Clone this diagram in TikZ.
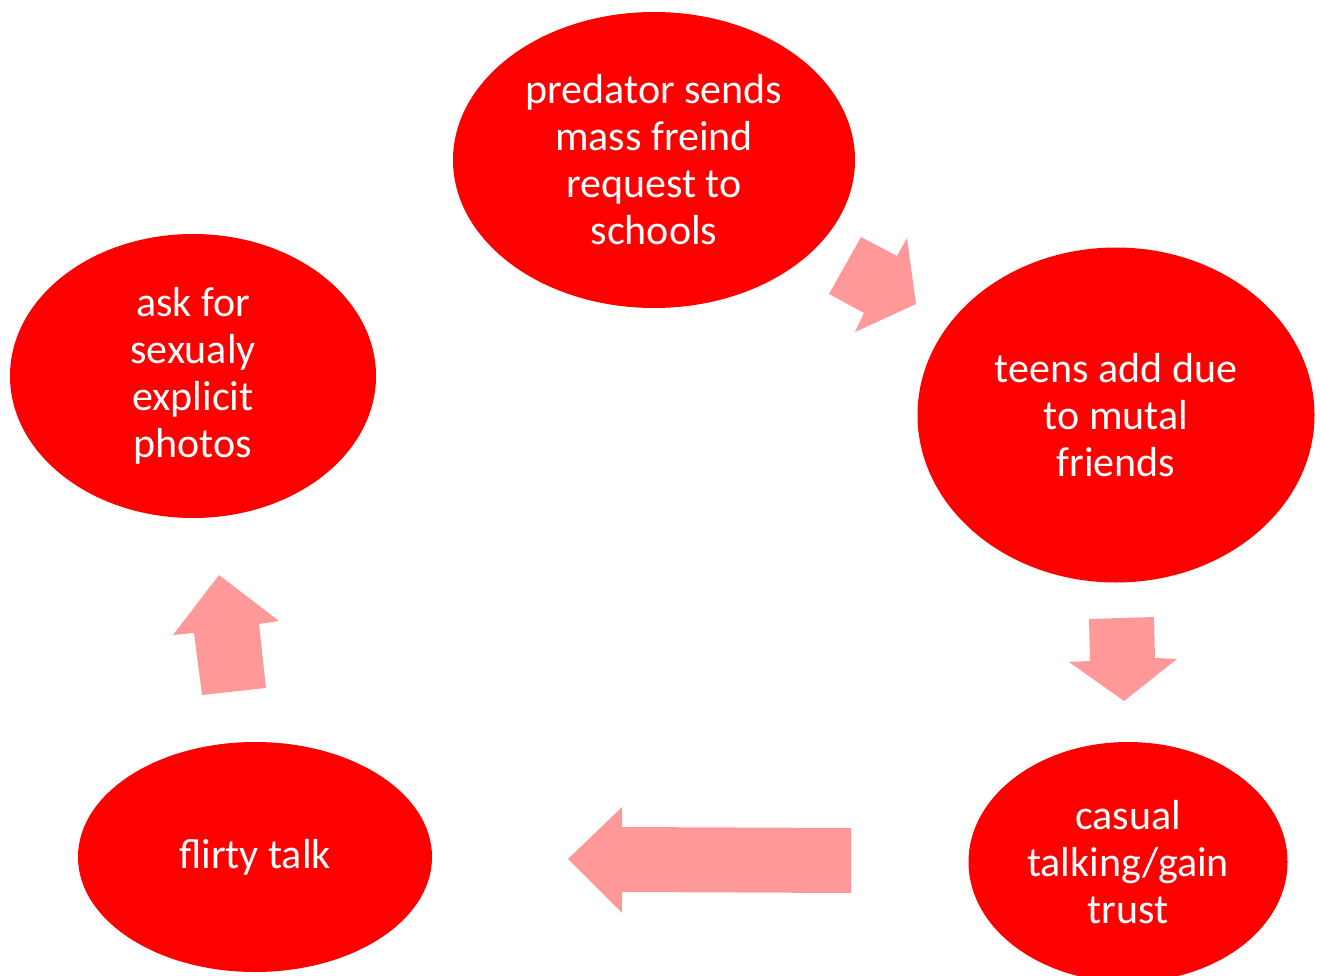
\documentclass[tikz,border=0pt]{standalone}
\usepackage{fontspec}
\setmainfont{Carlito}
\usetikzlibrary{shapes.geometric}
\definecolor{bubblered}{RGB}{255,0,0}
\definecolor{arrowpink}{RGB}{255,153,153}
\tikzset{
  bubble/.style={ellipse,fill=bubblered,text=white,inner sep=0pt,align=center,
    font=\fontsize{42}{47}\selectfont},
  blockarrow/.style={fill=arrowpink}
}
\begin{document}
\begin{tikzpicture}[x=1pt,y=-1pt]
\useasboundingbox (0,0) rectangle (1320,976);

% the five steps
\node[bubble,minimum width=402,minimum height=296] (sends) at (654,160)
  {predator sends\\mass freind\\request to\\schools};
\node[bubble,minimum width=397,minimum height=335] (teens) at (1116,415)
  {teens add due\\to mutal\\friends};
\node[bubble,minimum width=319,minimum height=240] (casual) at (1128,862)
  {casual\\talking/gain\\trust};
\node[bubble,minimum width=354,minimum height=230] (flirty) at (255,857)
  {flirty talk};
\node[bubble,minimum width=366,minimum height=284] (photos) at (193,376)
  {ask for\\sexualy\\explicit\\photos};

% block arrows between them
\fill[blockarrow] (861,237) -- (897,256) -- (907,238) -- (916,304)
  -- (855,332) -- (864,313) -- (829,294) -- cycle;
\fill[blockarrow] (1089,619) -- (1154,617) -- (1155,658) -- (1177,659)
  -- (1124,701) -- (1069,662) -- (1090,661) -- cycle;
\fill[blockarrow] (851,828) -- (851,893) -- (622,892) -- (622,913)
  -- (568,859) -- (622,807) -- (622,827) -- cycle;
\fill[blockarrow] (219,575) -- (279,621) -- (259,624) -- (266,688)
  -- (202,695) -- (194,633) -- (173,635) -- cycle;

\end{tikzpicture}
\end{document}
